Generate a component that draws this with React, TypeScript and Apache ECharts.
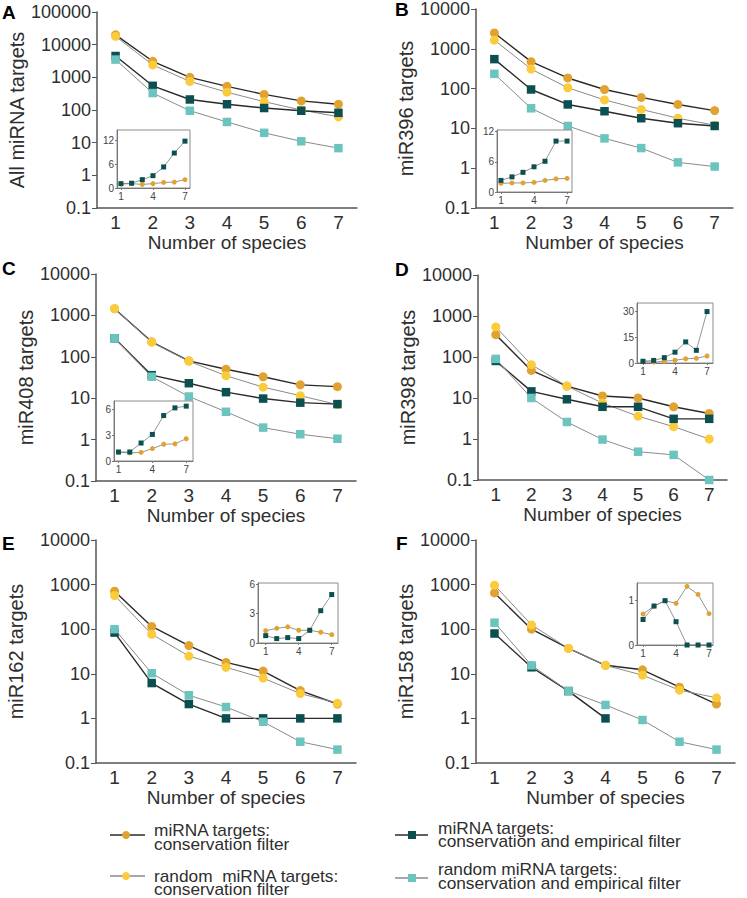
import React, { useEffect, useRef } from 'react';
import * as echarts from 'echarts';

// ---------- categories & labels ----------
const species = ['1', '2', '3', '4', '5', '6', '7'];
const insetSpecies = [1, 2, 3, 4, 5, 6, 7];
const insetXTicks = [1, 4, 7];
const panelLetters = ['A', 'B', 'C', 'D', 'E', 'F'];
const yTitles = ['All miRNA targets', 'miR396 targets', 'miR408 targets', 'miR398 targets', 'miR162 targets', 'miR158 targets'];
const xTitle = 'Number of species';
const legendLabels = [
  'miRNA targets:\nconservation filter',
  'random  miRNA targets:\nconservation filter',
  'miRNA targets:\nconservation and empirical filter',
  'random miRNA targets:\nconservation and empirical filter',
];

// ---------- panel A: all miRNA targets ----------
const consA = [20000, 3100, 1000, 530, 300, 190, 150];
const randConsA = [18000, 2400, 750, 350, 180, 100, 62];
const empA = [4500, 550, 210, 150, 115, 95, 82];
const randEmpA = [3500, 330, 95, 43, 20, 11, 6.8];
const insetConsA = [1.0, 1.1, 0.9, 1.1, 1.4, 1.5, 2.1];
const insetEmpA = [1.1, 1.2, 2.1, 3.1, 5.3, 8.8, 11.8];

// ---------- panel B: miR396 ----------
const consB = [2500, 475, 185, 95, 60, 40, 28];
const randConsB = [1650, 310, 105, 52, 30, 18, 12];
const empB = [550, 95, 40, 27, 18, 13.5, 11.5];
const randEmpB = [235, 32, 11.5, 5.6, 3.2, 1.4, 1.1];
const insetConsB = [1.7, 1.8, 1.8, 1.9, 2.3, 2.6, 2.7];
const insetEmpB = [2.3, 3.0, 3.9, 5.0, 6.1, 10.1, 10.1];

// ---------- panel C: miR408 ----------
const consC = [1450, 230, 80, 50, 33, 21, 19];
const randConsC = [1450, 225, 78, 35, 18.5, 11.5, 7];
const empC = [280, 36, 23, 14, 9.8, 7.8, 7.2];
const randEmpC = [280, 33, 11, 4.7, 1.95, 1.35, 1.05];
const insetConsC = [1.0, 0.95, 1.0, 1.45, 1.95, 2.0, 2.6];
const insetEmpC = [1.05, 1.05, 2.1, 3.1, 5.3, 6.2, 6.4];

// ---------- panel D: miR398 ----------
const consD = [350, 47, 19.5, 11.2, 10, 6.1, 4.2];
const randConsD = [540, 65, 19.5, 7.5, 3.6, 2.0, 1.0];
const empD = [80, 14.5, 9.3, 6.1, 6.1, 3.1, 3.1];
const randEmpD = [90, 10, 2.6, 0.97, 0.49, 0.41, 0.1];
const insetConsD = [0.8, 0.5, 1.0, 1.6, 2.5, 2.7, 4.1];
const insetEmpD = [1.0, 1.5, 3.1, 6.3, 12.3, 7.4, 30];

// ---------- panel E: miR162 ----------
const consE = [710, 115, 43, 18, 11.5, 4.2, 2.1];
const randConsE = [570, 77, 25, 14, 8, 3.6, 2.2];
const empE = [84, 6.2, 2.1, 1, 1, 1, 1];
const randEmpE = [100, 10.3, 3.3, 1.8, 0.84, 0.3, 0.2];
const insetConsE = [1.25, 1.5, 1.65, 1.3, 1.3, 1.1, 0.85];
const insetEmpE = [0.75, 0.45, 0.55, 0.45, 1.3, 3.3, 4.95];

// ---------- panel F: miR158 ----------
const consF = [650, 100, 37, 15.5, 12.3, 5.0, 2.1];
const randConsF = [970, 125, 37, 15.5, 9.3, 4.3, 2.9];
const empF = [80, 14, 4.1, 1, null, null, null];
const randEmpF = [140, 15.5, 4.1, 2.0, 0.92, 0.3, 0.2];
const insetConsF = [0.69, 0.87, 0.99, 0.93, 1.31, 1.13, 0.7];
const insetEmpF = [0.57, 0.87, 0.99, 0.52, 0, 0, 0];

const mainData = [
  [consA, randConsA, empA, randEmpA],
  [consB, randConsB, empB, randEmpB],
  [consC, randConsC, empC, randEmpC],
  [consD, randConsD, empD, randEmpD],
  [consE, randConsE, empE, randEmpE],
  [consF, randConsF, empF, randEmpF],
];
const insetData = [
  [insetConsA, insetEmpA],
  [insetConsB, insetEmpB],
  [insetConsC, insetEmpC],
  [insetConsD, insetEmpD],
  [insetConsE, insetEmpE],
  [insetConsF, insetEmpF],
];

// ---------- layout & style ----------
const FONT = 'Liberation Sans, Arial, Helvetica, sans-serif';
const ORANGE = '#E1A22F';
const YELLOW = '#FCCB3C';
const DARK = '#0B4F50';
const LIGHT = '#6CC4BE';
const DARKLINE = '#2a2a2a';
const GREYLINE = '#8a8a8a';
const AXIS = '#555';
const TEXT = '#2e2e2e';

const mainLayout = [
  { left: 97, top: 12, width: 260, height: 196, max: 100000, nameGap: 60 },
  { left: 476, top: 7, width: 257, height: 201, max: 10000, nameGap: 52 },
  { left: 96, top: 274, width: 260, height: 207, max: 10000, nameGap: 60 },
  { left: 478, top: 275, width: 249, height: 205, max: 10000, nameGap: 52 },
  { left: 96, top: 540, width: 260, height: 223, max: 10000, nameGap: 70 },
  { left: 476, top: 540, width: 259, height: 223, max: 10000, nameGap: 52 },
];
const insetLayout = [
  { left: 117, top: 130, width: 73, height: 58, xMin: 0.63, xMax: 7.47, yMax: 14.6, interval: 6 },
  { left: 497, top: 130, width: 75, height: 62, xMin: 0.64, xMax: 7.45, yMax: 12.3, interval: 6 },
  { left: 114, top: 401, width: 79, height: 60, xMin: 0.6, xMax: 7.6, yMax: 7.0, interval: 3 },
  { left: 637, top: 303, width: 76, height: 60, xMin: 0.44, xMax: 7.56, yMax: 35, interval: 15 },
  { left: 258, top: 583, width: 80, height: 60, xMin: 0.3, xMax: 7.57, yMax: 6.13, interval: 3 },
  { left: 637, top: 583, width: 76, height: 62, xMin: 0.45, xMax: 7.36, yMax: 1.385, interval: 1 },
];
const letterPos = [
  { x: 2, y: 12 }, { x: 395, y: 9 }, { x: 2, y: 268 }, { x: 395, y: 269 }, { x: 2, y: 543 }, { x: 396, y: 543 },
];
const legendPos = [
  { lx1: 110, lx2: 145, sx: 126, sy: 835, tx: 154, ty: 837.5 },
  { lx1: 110, lx2: 145, sx: 126, sy: 876, tx: 154, ty: 883 },
  { lx1: 395, lx2: 428, sx: 412, sy: 835, tx: 438, ty: 835 },
  { lx1: 395, lx2: 428, sx: 412, sy: 878, tx: 438, ty: 876.5 },
];

const seriesStyle = [
  { symbol: 'circle', color: ORANGE, line: DARKLINE, width: 1.4, size: 9 },
  { symbol: 'circle', color: YELLOW, line: GREYLINE, width: 1, size: 9 },
  { symbol: 'rect', color: DARK, line: DARKLINE, width: 1.4, size: 8.5 },
  { symbol: 'rect', color: LIGHT, line: GREYLINE, width: 1, size: 8.5 },
];
const insetStyle = [
  { symbol: 'circle', color: ORANGE },
  { symbol: 'rect', color: DARK },
];

const fmtLog = (v: number) => (v >= 1 ? String(Math.round(v)) : String(Math.round(v * 10) / 10));

function buildOption() {
  const grid: any[] = [];
  const xAxis: any[] = [];
  const yAxis: any[] = [];
  const series: any[] = [];
  const graphic: any[] = [];

  mainLayout.forEach((L, i) => {
    grid.push({ left: L.left, top: L.top, width: L.width, height: L.height });
    xAxis.push({
      type: 'category', gridIndex: i, data: species, boundaryGap: true,
      name: xTitle, nameLocation: 'middle', nameGap: 22,
      nameTextStyle: { fontSize: 19, color: TEXT, fontFamily: FONT },
      axisLine: { lineStyle: { color: AXIS, width: 1.5 } },
      axisTick: { length: 4, lineStyle: { color: AXIS } },
      axisLabel: { fontSize: 19, color: TEXT, margin: 5, fontFamily: FONT },
      splitLine: { show: false },
    });
    yAxis.push({
      type: 'log', logBase: 10, gridIndex: i, min: 0.1, max: L.max,
      name: yTitles[i], nameLocation: 'middle', nameGap: L.nameGap,
      nameTextStyle: { fontSize: 20, color: TEXT, fontFamily: FONT },
      axisLine: { show: true, lineStyle: { color: AXIS, width: 1.5 } },
      axisTick: { show: true, length: 5, lineStyle: { color: AXIS } },
      axisLabel: { fontSize: 18, color: TEXT, margin: 6, fontFamily: FONT, formatter: fmtLog },
      splitLine: { show: false },
      minorTick: { show: false },
    });
    mainData[i].forEach((arr, k) => {
      const s = seriesStyle[k];
      series.push({
        type: 'line', xAxisIndex: i, yAxisIndex: i, data: arr,
        symbol: s.symbol, symbolSize: s.size, showAllSymbol: true,
        itemStyle: { color: s.color, borderWidth: 0 },
        lineStyle: { color: s.line, width: s.width },
        connectNulls: false,
      });
    });
  });

  insetLayout.forEach((L, i) => {
    const idx = 6 + i;
    grid.push({
      left: L.left, top: L.top, width: L.width, height: L.height,
      show: true, borderColor: '#8c8c8c', borderWidth: 1, backgroundColor: '#fff', z: 5,
    });
    xAxis.push({
      type: 'value', gridIndex: idx, min: L.xMin, max: L.xMax, z: 6,
      axisLine: { show: true, onZero: false, lineStyle: { color: '#777', width: 1 } },
      axisTick: { show: true, length: 2, customValues: insetXTicks, lineStyle: { color: '#777' } },
      axisLabel: { fontSize: 10, color: '#444', margin: 3, fontFamily: FONT, customValues: insetXTicks },
      splitLine: { show: false },
    });
    yAxis.push({
      type: 'value', gridIndex: idx, min: 0, max: L.yMax, interval: L.interval, z: 6,
      axisLine: { show: true, lineStyle: { color: '#777', width: 1 } },
      axisTick: { show: true, length: 2, lineStyle: { color: '#777' } },
      axisLabel: { fontSize: 10, color: '#444', margin: 3, fontFamily: FONT, showMaxLabel: false },
      splitLine: { show: false },
    });
    insetData[i].forEach((arr, k) => {
      const s = insetStyle[k];
      series.push({
        type: 'line', xAxisIndex: idx, yAxisIndex: idx, z: 7,
        data: arr.map((v, j) => [insetSpecies[j], v]),
        symbol: s.symbol, symbolSize: 5, showAllSymbol: true,
        itemStyle: { color: s.color, borderWidth: 0 },
        lineStyle: { color: '#7a7a7a', width: 0.8 },
      });
    });
  });

  letterPos.forEach((p, i) => {
    graphic.push({
      type: 'text', x: p.x, y: p.y, z: 10,
      style: { text: panelLetters[i], fontSize: 19, fontWeight: 'bold', fill: '#000', fontFamily: FONT, textVerticalAlign: 'middle' },
    });
  });

  legendPos.forEach((p, k) => {
    const s = seriesStyle[k];
    graphic.push({
      type: 'line', z: 10,
      shape: { x1: p.lx1, y1: p.sy, x2: p.lx2, y2: p.sy },
      style: { stroke: s.line, lineWidth: 1.4 },
    });
    if (s.symbol === 'circle') {
      graphic.push({ type: 'circle', z: 11, shape: { cx: p.sx, cy: p.sy, r: 4 }, style: { fill: s.color } });
    } else {
      graphic.push({ type: 'rect', z: 11, shape: { x: p.sx - 4, y: p.sy - 4, width: 8, height: 8 }, style: { fill: s.color } });
    }
    graphic.push({
      type: 'text', x: p.tx, y: p.ty, scaleX: 1.08, z: 11,
      style: { text: legendLabels[k], fontSize: 16, lineHeight: 13.5, fill: TEXT, fontFamily: FONT, textVerticalAlign: 'middle' },
    });
  });

  return {
    animation: false,
    backgroundColor: '#fff',
    textStyle: { fontFamily: FONT },
    grid, xAxis, yAxis, series, graphic,
  };
}

export default function App() {
  const ref = useRef<HTMLDivElement>(null);
  useEffect(() => {
    const chart = echarts.init(ref.current as HTMLDivElement, null, { renderer: 'svg' });
    chart.setOption(buildOption() as any);
    return () => chart.dispose();
  }, []);
  return (
    <div
      ref={ref}
      style={{ position: 'absolute', left: 0, top: 0, width: 747, height: 898, background: '#fff' }}
    />
  );
}
